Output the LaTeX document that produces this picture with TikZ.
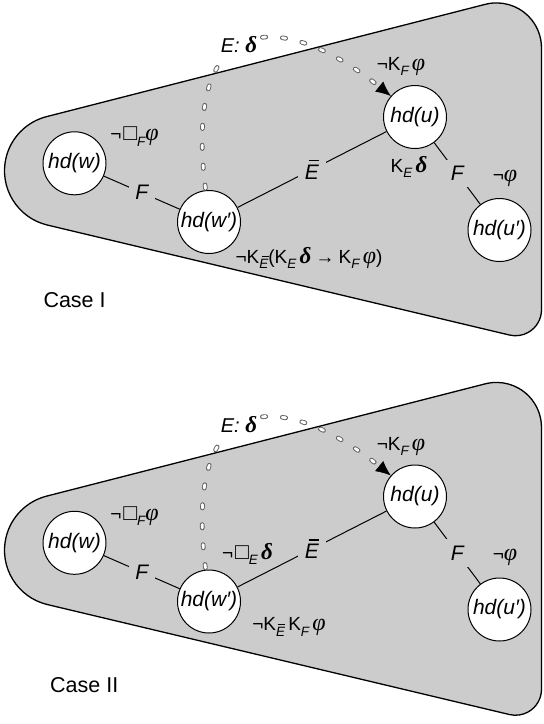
\documentclass[tikz,border=0pt]{standalone}
\usepackage{fontspec}
\setmainfont{Liberation Sans}
\newfontfamily\grkfont{Liberation Serif}
\usetikzlibrary{arrows.meta}
\definecolor{blobgray}{RGB}{204,204,204}
\newcommand\vph{{\grkfont\fontsize{24}{24}\selectfont\itshape φ}}
\newcommand\dlt{{\grkfont\fontsize{23}{23}\selectfont\bfseries\itshape δ}}
\newcommand\lsub[1]{\raisebox{-0.28em}{\fontsize{13.5}{13.5}\selectfont\itshape #1}}
\newcommand\sqbox{\hspace{0.1em}{\fontsize{23}{23}\selectfont □}}
\newcommand\Ebar{\makebox[0pt][l]{\hspace{0.17em}\rule[0.86em]{0.52em}{0.055em}}\textit{E}}
\newcommand\hdlab[1]{\makebox[30pt]{hd(#1)}}
\tikzset{
  world/.style={circle, draw=black, fill=white, line width=1pt, minimum size=63pt, inner sep=0pt,
    font=\fontsize{21}{25}\selectfont\itshape},
  elab/.style={fill=blobgray, inner sep=6.5pt, font=\fontsize{21}{25}\selectfont\itshape},
  lab/.style={inner sep=1pt, font=\fontsize{19}{23}\selectfont},
  casetext/.style={inner sep=0pt, anchor=west, font=\fontsize{21.5}{25}\selectfont},
  edge/.style={draw=black, line width=1pt},
  blob/.style={fill=blobgray, draw=black, line width=1.3pt},
  dashdark/.style={draw=black!62, line width=4.6pt, line cap=round, dash pattern=on 3.5pt off 16.5pt, dash phase=18.2pt, shorten >=13pt},
  dashlight/.style={draw=white, line width=2.8pt, line cap=round, dash pattern=on 3.5pt off 16.5pt, dash phase=18.2pt, shorten >=13pt},
  arrowonly/.style={draw=black, line width=0.6pt, dash pattern=on 0pt off 5000pt, -{Latex[length=15pt,width=13pt]}},
}
\newcommand\casepart[2]{%
\begin{scope}[shift={(0,#2)}]
  \path[blob] (46.49,116.65) -- (485.34,4.31) arc[start angle=-104.36, end angle=0, radius=45]
    -- (541.5,309.74) arc[start angle=0, end angle=103.39, radius=26]
    -- (47.41,225.06) arc[start angle=103.39, end angle=255.64, radius=55.84] -- cycle;
  \node[world] (#1w) at (74.5,163.3) {\hdlab{w}};
  \node[world] (#1wp) at (209,222) {\hdlab{w′}};
  \node[world] (#1u) at (415,117) {\hdlab{u}};
  \node[world] (#1up) at (499.5,230) {\hdlab{u′}};
  \draw[edge] (#1w) -- node[elab] (#1fa) {F} (#1wp);
  \draw[edge] (#1wp) -- node[elab] (#1eb) {\Ebar} (#1u);
  \draw[edge] (#1u) -- node[elab] (#1fb) {F} (#1up);
  \coordinate (#1c1) at (182,8);
  \coordinate (#1c2) at (282,8);
  \draw[dashdark] (#1wp.96) .. controls (#1c1) and (#1c2) .. (#1u.139);
  \draw[dashlight] (#1wp.96) .. controls (#1c1) and (#1c2) .. (#1u.139);
  \draw[arrowonly] (#1wp.96) .. controls (#1c1) and (#1c2) .. (#1u.139);
  \node[lab, fill=white, inner ysep=5pt, font=\fontsize{20}{24}\selectfont] (#1ed) at (239,45) {\textit{E:} \dlt};
  \node[lab] (#1lw) at (134.5,136.7) {¬\sqbox\lsub{F}\vph};
  \node[lab] (#1lu) at (401,66.7) {¬K\lsub{F}\,\vph};
  \node[lab] (#1lup) at (505,178.3) {¬\vph};
\end{scope}}
\begin{document}
\begin{tikzpicture}[x=1pt, y=-1pt]
  \useasboundingbox (0,0) rectangle (544,724);
  \casepart{a}{0}
  \node[lab] (aKE) at (409,166.7) {K\lsub{E}\,\dlt};
  \node[lab] (aKbig) at (309,258) {¬K\lsub{\Ebar}(K\lsub{E}\,\dlt\hspace{0.22em}→\hspace{0.22em}K\lsub{F}\,\vph)};
  \node[casetext] (acase) at (43.3,300) {Case I};
  \casepart{b}{379.5}
  \node[lab] (bBE) at (247.5,553.7) {¬\sqbox\lsub{E}\,\dlt};
  \node[lab] (bKK) at (289,627) {¬K\lsub{\Ebar}\,K\lsub{F}\,\vph};
  \node[casetext] (bcase) at (50,685.3) {Case II};
\end{tikzpicture}
\end{document}
